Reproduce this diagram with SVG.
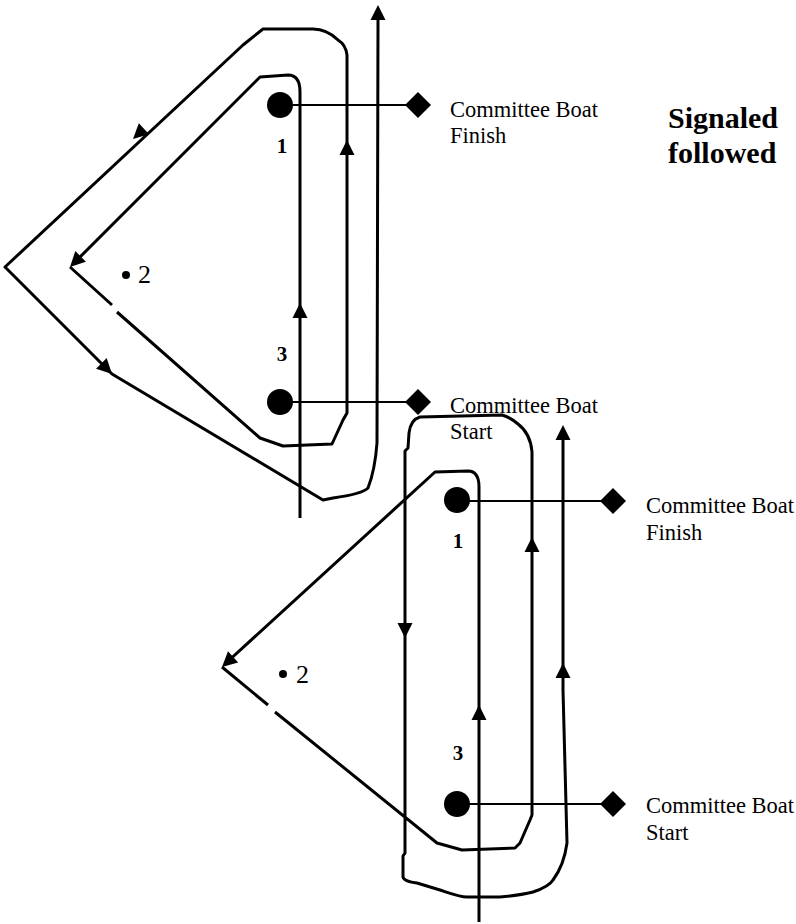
<svg xmlns="http://www.w3.org/2000/svg" xmlns:xlink="http://www.w3.org/1999/xlink" width="796" height="924" viewBox="0 0 796 924">
  <style>
    .route { fill: none; stroke: #000; stroke-width: 3; stroke-linejoin: round; }
    .tie { fill: none; stroke: #000; stroke-width: 2; }
    .mark { fill: #000; }
    .num { font-family: "Liberation Serif", "Times New Roman", serif; font-weight: bold; font-size: 21px; fill: #000; text-anchor: middle; }
    .num2 { font-family: "Liberation Serif", "Times New Roman", serif; font-size: 26px; fill: #000; }
    .boat { font-family: "Liberation Serif", "Times New Roman", serif; font-size: 22.5px; fill: #000; }
    .title { font-family: "Liberation Serif", "Times New Roman", serif; font-weight: bold; font-size: 30px; fill: #000; }
  </style>
  <defs>
    <!-- arrowhead, tip at origin, pointing along +x -->
    <polygon id="ah" points="0,0 -15,-7.5 -15,7.5" fill="#000"/>
    <polygon id="dia" points="0,-13 13,0 0,13 -13,0" fill="#000"/>
  </defs>

  <!-- ===== Upper course ===== -->
  <g id="connectors-upper">
    <!-- start, up past marks 3 and 1, round 1, down to 2 -->
    <path class="route" d="M300,518 L300,92 C300,80 296,75 288,75 L260,77 L73,264"/>
    <!-- 2 to 3, round 3, up to 1, round 1, out to the wing, back past 3 to the finish -->
    <path class="route" d="M70,267 L112,305"/>
    <path class="route" d="M117,312 L260,438 L283,446 L332,444 L343,420 L347,413 L347,55 C346,47 343,43 338,40 C331,33 322,29 313,29 L263,29 L243,45 L5,267 L112,374 L323,500 L333,498 Q362,494 368,488 Q375,470 377,443 L378,20"/>
    <use xlink:href="#ah" transform="translate(300,303) rotate(-90)"/>
    <use xlink:href="#ah" transform="translate(70,267) rotate(135)"/>
    <use xlink:href="#ah" transform="translate(347,140) rotate(-90)"/>
    <use xlink:href="#ah" transform="translate(133,139) rotate(137)"/>
    <use xlink:href="#ah" transform="translate(112,374) rotate(45)"/>
    <use xlink:href="#ah" transform="translate(378,5) rotate(-90)"/>
    <!-- ties from marks to committee boats -->
    <line class="tie" x1="280" y1="105" x2="418" y2="105"/>
    <line class="tie" x1="280" y1="402" x2="418" y2="402"/>
  </g>

  <g id="mark1-upper">
    <circle class="mark" cx="280" cy="105" r="13"/>
    <text class="num" x="282" y="153">1</text>
  </g>
  <g id="mark2-upper">
    <circle class="mark" cx="126" cy="275" r="4"/>
    <text class="num2" x="138" y="283">2</text>
  </g>
  <g id="mark3-upper">
    <circle class="mark" cx="280" cy="402" r="13"/>
    <text class="num" x="282" y="361">3</text>
  </g>
  <g id="boat-finish-upper">
    <use xlink:href="#dia" transform="translate(418,105)"/>
    <text class="boat" x="450" y="117">Committee Boat</text>
    <text class="boat" x="450" y="143">Finish</text>
  </g>
  <g id="boat-start-upper">
    <use xlink:href="#dia" transform="translate(418,402)"/>
    <text class="boat" x="450" y="413">Committee Boat</text>
    <text class="boat" x="450" y="439">Start</text>
  </g>

  <g id="title">
    <text class="title" x="668" y="128">Signaled</text>
    <text class="title" x="668" y="163">followed</text>
  </g>

  <!-- ===== Lower course ===== -->
  <g id="connectors-lower">
    <path class="route" d="M479,922 L479,487 C479,478 476,471 468,471 L435,472 L225,664"/>
    <path class="route" d="M222,667 L268,705"/>
    <path class="route" d="M275,712 L437,843 L462,850 L515,848 L520,843 L530,820 L532,815 L532,452 C531,440 526,430 518,424 C512,419 506,416 502,415 L420,417 C413,419 410,424 409,433 L408,448 L405,451 L405,853 L403,856 L403,877 C404,881 410,882 417,883 L440,890 C452,894 460,897 467,897 L500,897 C512,896 525,894 533,892 C542,889 550,885 553,880 C559,872 565,858 567,843 L563,690 L563,440"/>
    <use xlink:href="#ah" transform="translate(479,705) rotate(-90)"/>
    <use xlink:href="#ah" transform="translate(222,667) rotate(137.5)"/>
    <use xlink:href="#ah" transform="translate(532,537) rotate(-90)"/>
    <use xlink:href="#ah" transform="translate(405,638) rotate(90)"/>
    <use xlink:href="#ah" transform="translate(563,663) rotate(-90)"/>
    <use xlink:href="#ah" transform="translate(563,425) rotate(-90)"/>
    <line class="tie" x1="457" y1="501" x2="613" y2="501"/>
    <line class="tie" x1="457" y1="804" x2="613" y2="804"/>
  </g>

  <g id="mark1-lower">
    <circle class="mark" cx="457" cy="500" r="13"/>
    <text class="num" x="458" y="548">1</text>
  </g>
  <g id="mark2-lower">
    <circle class="mark" cx="283" cy="674" r="4"/>
    <text class="num2" x="296" y="683">2</text>
  </g>
  <g id="mark3-lower">
    <circle class="mark" cx="457" cy="804" r="13"/>
    <text class="num" x="458" y="760">3</text>
  </g>
  <g id="boat-finish-lower">
    <use xlink:href="#dia" transform="translate(613,501)"/>
    <text class="boat" x="646" y="513">Committee Boat</text>
    <text class="boat" x="646" y="540">Finish</text>
  </g>
  <g id="boat-start-lower">
    <use xlink:href="#dia" transform="translate(613,804)"/>
    <text class="boat" x="646" y="813">Committee Boat</text>
    <text class="boat" x="646" y="840">Start</text>
  </g>
</svg>
